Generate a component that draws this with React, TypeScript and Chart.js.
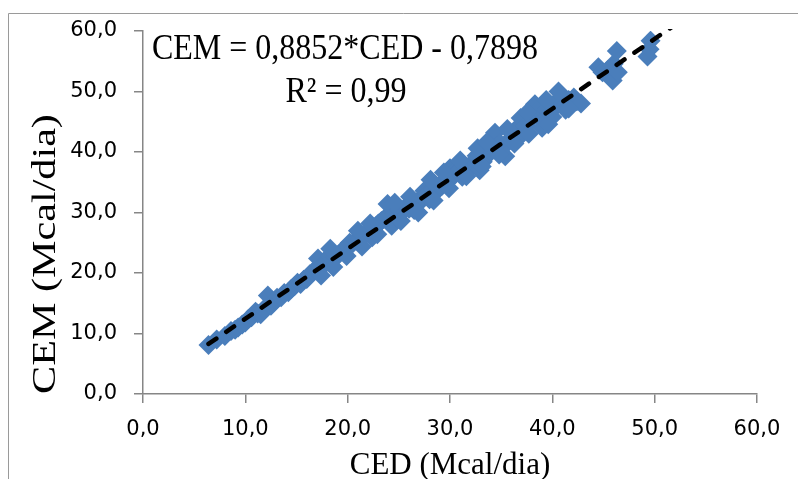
import { useEffect, useRef } from "react";
import { Chart, registerables } from "chart.js";

Chart.register(...registerables);

// Energy intake per animal: digestible (CED) vs metabolizable (CEM), Mcal/dia
const CED = [
  6.4, 7.2, 8.0, 8.6, 9.0, 9.3, 9.7, 10.0, 10.3, 10.6, 11.0, 11.2, 11.5, 11.8, 12.2,
  12.5, 12.8, 13.1, 13.5, 13.8, 14.2, 14.5, 14.8, 15.1, 15.4, 15.7, 16.0, 16.3, 16.6, 16.9,
  17.1, 17.3, 17.6, 17.9, 18.2, 18.5, 18.8, 19.1, 19.4, 19.7, 20.0, 20.2, 20.5, 20.8, 21.2,
  21.6, 22.0, 22.4, 22.8, 23.0, 23.3, 23.6, 23.9, 24.3, 24.6, 24.8, 25.1, 25.4, 25.7, 26.0,
  26.3, 26.5, 26.8, 27.0, 27.3, 27.5, 27.8, 28.0, 28.3, 28.6, 28.9, 29.2, 29.5, 29.7, 30.0,
  30.2, 30.5, 30.8, 31.2, 31.5, 31.8, 32.1, 32.4, 32.6, 32.9, 33.2, 33.5, 33.8, 34.0, 34.4,
  34.6, 34.9, 35.1, 35.4, 35.8, 36.2, 36.5, 36.7, 36.9, 37.1, 37.4, 37.8, 38.1, 38.3, 38.6,
  38.8, 39.0, 39.2, 39.4, 39.8, 40.0, 40.4, 40.8, 41.0, 41.3, 41.6, 42.1, 42.4, 42.8, 44.5,
  44.9, 45.4, 45.9, 46.0, 46.3, 46.4, 49.3, 49.5, 49.6,
  17.4, 18.6, 19.9, 21.4, 22.9, 25.2, 26.9, 28.4, 29.9, 31.6, 33.1, 34.8, 36.3, 37.7,
  39.6, 41.6, 18.3, 21.0, 22.2, 24.6, 26.1, 28.1, 29.4, 31.0, 32.7, 33.6, 35.6,
  37.6, 39.4, 40.6,
];
const CEM = [
  8.1, 9.0, 9.6, 10.4, 10.6, 11.0, 11.5, 11.8, 12.4, 12.7, 13.6, 13.3, 13.2, 14.0, 16.3,
  14.6, 15.2, 15.9, 16.0, 16.7, 16.8, 17.4, 17.8, 18.4, 18.2, 18.9, 19.0, 19.8, 20.2, 20.6,
  22.4, 20.9, 21.5, 21.7, 22.8, 22.3, 22.6, 23.0, 23.6, 24.0, 24.4, 25.0, 24.9, 25.4, 25.6,
  26.2, 26.6, 25.9, 27.8, 28.2, 28.6, 29.0, 31.4, 27.8, 29.8, 29.2, 30.4, 30.2, 31.0, 30.6,
  31.6, 30.4, 31.3, 32.0, 32.6, 33.6, 33.0, 32.2, 33.8, 33.4, 34.0, 34.4, 35.4, 35.0, 37.3,
  36.4, 36.3, 36.8, 35.9, 37.2, 37.2, 38.0, 38.6, 39.4, 37.0, 38.4, 39.4, 40.4, 40.0, 43.2,
  41.0, 41.4, 40.6, 39.3, 42.0, 43.2, 42.6, 44.2, 45.6, 43.0, 44.3, 45.2, 46.6, 47.9, 46.0,
  47.4, 44.0, 45.4, 47.0, 46.6, 45.8, 47.8, 49.0, 48.2, 47.0, 48.6, 49.0, 48.4, 48.0, 54.0,
  53.2, 53.5, 51.8, 54.6, 56.7, 53.2, 55.8, 57.0, 58.4,
  19.6, 21.0, 22.8, 24.4, 26.4, 28.6, 30.0, 32.0, 34.0, 36.0, 37.6, 39.6, 41.4, 43.0,
  44.6, 47.2, 24.0, 27.0, 28.2, 31.6, 32.6, 35.4, 36.6, 38.6, 40.6, 41.6, 43.8,
  46.6, 48.6, 50.0,
];

const AXIS_MIN = 0;
const AXIS_MAX = 60;
const AXIS_STEP = 10;

const EQUATION = "CEM = 0,8852*CED - 0,7898";
const R2_LABEL = "R² = 0,99";
const X_TITLE = "CED (Mcal/dia)";
const Y_TITLE = "CEM (Mcal/dia)";

// forward forecast of the linear trend, in CED units
const TREND_FORECAST = 2;

const MARKER = "#4a7ebb";
const AXIS_GRAY = "#868686";
const SERIF = "'Liberation Serif', 'Times New Roman', serif";

function leastSquares(xs: number[], ys: number[]) {
  const n = xs.length;
  const mx = xs.reduce((a, b) => a + b, 0) / n;
  const my = ys.reduce((a, b) => a + b, 0) / n;
  let sxy = 0;
  let sxx = 0;
  for (let i = 0; i < n; i++) {
    sxy += (xs[i] - mx) * (ys[i] - my);
    sxx += (xs[i] - mx) * (xs[i] - mx);
  }
  const slope = sxy / sxx;
  return { slope, intercept: my - slope * mx };
}

const fmt = (v: number) => v.toFixed(1).replace(".", ",");

// frame and serif annotations drawn straight onto the canvas
const annotations = {
  id: "annotations",
  afterDraw(chart: Chart) {
    const ctx = chart.ctx;
    ctx.save();
    ctx.strokeStyle = "#9a9a9a";
    ctx.lineWidth = 1;
    ctx.beginPath();
    ctx.moveTo(8.5, chart.height + 2);
    ctx.lineTo(8.5, 13.5);
    ctx.lineTo(chart.width + 2, 13.5);
    ctx.stroke();

    ctx.fillStyle = "#000";
    ctx.textAlign = "center";
    ctx.textBaseline = "alphabetic";

    const line = (text: string, x: number, y: number, sx: number, sy: number) => {
      ctx.save();
      ctx.translate(x, y);
      ctx.scale(sx, sy);
      ctx.fillText(text, 0, 0);
      ctx.restore();
    };
    ctx.font = `32px ${SERIF}`;
    line(EQUATION, 345, 59, 1, 1.1);
    line(R2_LABEL, 346, 102, 1, 1.1);

    ctx.font = `31px ${SERIF}`;
    line(X_TITLE, 450, 474, 1, 1.05);

    ctx.font = `34px ${SERIF}`;
    ctx.save();
    ctx.translate(55, 254);
    ctx.rotate(-Math.PI / 2);
    ctx.scale(1.24, 1);
    ctx.fillText(Y_TITLE, 0, 0);
    ctx.restore();
    ctx.restore();
  },
};

export default function App() {
  const ref = useRef<HTMLCanvasElement | null>(null);

  useEffect(() => {
    if (!ref.current) return;
    const points = CED.map((x, i) => ({ x, y: CEM[i] }));
    const { slope, intercept } = leastSquares(CED, CEM);
    const x0 = Math.min(...CED);
    const x1 = Math.max(...CED) + TREND_FORECAST;
    const trend = [
      { x: x0, y: intercept + slope * x0 },
      { x: x1, y: intercept + slope * x1 },
    ];

    const tickFont = { family: "'DejaVu Sans', sans-serif", size: 21 };

    const chart = new Chart(ref.current, {
      type: "scatter",
      data: {
        datasets: [
          {
            label: "Linear (CEM)",
            data: trend,
            showLine: true,
            borderColor: "#000",
            borderWidth: 4.5,
            borderDash: [9.5, 12],
            borderCapStyle: "round",
            pointRadius: 0,
            order: 0,
            clip: 2,
          } as any,
          {
            label: "CEM",
            data: points,
            pointStyle: "rectRot",
            pointRadius: 10,
            pointBackgroundColor: MARKER,
            pointBorderColor: MARKER,
            pointBorderWidth: 0,
            order: 1,
          },
        ],
      },
      options: {
        animation: false,
        responsive: false,
        devicePixelRatio: 1,
        layout: { padding: { left: 0, right: 41, top: 31, bottom: 0 } },
        plugins: { legend: { display: false }, tooltip: { enabled: false } },
        scales: {
          x: {
            type: "linear",
            min: AXIS_MIN,
            max: AXIS_MAX,
            ticks: {
              stepSize: AXIS_STEP,
              font: tickFont,
              color: "#000",
              padding: 14,
              maxRotation: 0,
              callback: (v: any) => fmt(Number(v)),
            },
            grid: {
              drawOnChartArea: false,
              drawTicks: true,
              tickLength: 9,
              color: AXIS_GRAY,
              lineWidth: 1.5,
            },
            border: { display: true, color: AXIS_GRAY, width: 1.5 },
            afterFit: (s: any) => {
              s.height = 85;
            },
          },
          y: {
            type: "linear",
            min: AXIS_MIN,
            max: AXIS_MAX,
            ticks: {
              stepSize: AXIS_STEP,
              font: tickFont,
              color: "#000",
              padding: 17,
              callback: (v: any) => fmt(Number(v)),
            },
            grid: {
              drawOnChartArea: false,
              drawTicks: true,
              tickLength: 9,
              color: AXIS_GRAY,
              lineWidth: 1.5,
            },
            border: { display: true, color: AXIS_GRAY, width: 1.5 },
            afterFit: (s: any) => {
              s.width = 143;
            },
          },
        },
      },
      plugins: [annotations],
    });
    return () => chart.destroy();
  }, []);

  return (
    <canvas
      ref={ref}
      width={798}
      height={479}
      style={{ position: "fixed", left: 0, top: 0, width: 798, height: 479, display: "block" }}
    />
  );
}
